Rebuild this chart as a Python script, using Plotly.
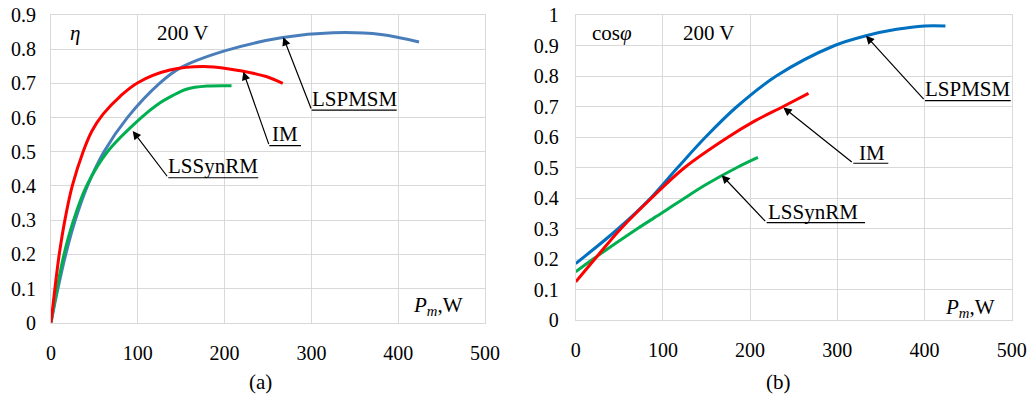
import plotly.graph_objects as go

# ---------------- data (a): efficiency eta vs Pm ----------------
p_eta_lspmsm = [0, 8, 17, 28, 42, 61, 88, 125, 148, 200, 267, 325, 380, 424]
eta_lspmsm = [0, 0.1, 0.2, 0.3, 0.4, 0.5, 0.6, 0.7, 0.744, 0.795, 0.834, 0.848, 0.843, 0.821]

p_eta_im = [0, 4.5, 9.5, 16, 24.5, 37, 47, 60, 80, 100, 137, 181, 220, 248, 267]
eta_im = [0, 0.1, 0.2, 0.3, 0.4, 0.5, 0.56, 0.61, 0.663, 0.702, 0.739, 0.749, 0.736, 0.72, 0.7]

p_eta_syn = [0, 7, 15, 26, 41, 65, 104, 122, 140, 156, 180, 208]
eta_syn = [0, 0.1, 0.2, 0.3, 0.4, 0.5, 0.6, 0.637, 0.664, 0.683, 0.692, 0.693]

# ---------------- data (b): power factor vs Pm ----------------
p_cos_lspmsm = [0, 49, 86, 117, 149, 185, 230, 297, 333, 368, 400, 424]
cos_lspmsm = [0.185, 0.3, 0.4, 0.5, 0.6, 0.7, 0.8, 0.9, 0.932, 0.953, 0.964, 0.964]

p_cos_im = [0, 22, 52, 87, 125, 175, 205, 238, 267]
cos_im = [0.125, 0.2, 0.3, 0.4, 0.5, 0.6, 0.652, 0.7, 0.743]

p_cos_syn = [0, 20, 71, 100, 125, 150, 185, 209]
cos_syn = [0.158, 0.2, 0.3, 0.353, 0.4, 0.445, 0.5, 0.533]

x_ticks = [0, 100, 200, 300, 400, 500]

# label arrows: (name, head_x, head_y, tail_x, tail_y, underline_end_x, text_x, text_y)
labels_a = [
    ("LSPMSM", 267.6, 0.835, 300.3, 0.622, 398.3, 350.2, 0.654),
    ("IM", 221.5, 0.734, 251.5, 0.518, 288.0, 269.6, 0.552),
    ("LSSynRM", 94.1, 0.561, 135.1, 0.424, 238.8, 186.6, 0.459),
]
labels_b = [
    ("LSPMSM", 332.8, 0.932, 400.6, 0.719, 498.9, 450.2, 0.756),
    ("IM", 238.1, 0.697, 318.3, 0.514, 358.5, 339.4, 0.549),
    ("LSSynRM", 167.4, 0.475, 219.0, 0.319, 331.8, 272.5, 0.353),
]

FONT = "'Liberation Serif', 'Times New Roman', 'DejaVu Serif', serif"
RED = "#FF0000"
GREEN = "#00B050"
BLUE_A = "#4A7EBB"
BLUE_B = "#0070C0"
GRID = "#D9D9D9"

fig = go.Figure()

def add_line(x, y, color, xa, ya):
    fig.add_trace(go.Scatter(x=x, y=y, mode="lines",
                             line=dict(color=color, width=3, shape="spline", smoothing=1.0),
                             xaxis=xa, yaxis=ya, showlegend=False, hoverinfo="skip"))

add_line(p_eta_lspmsm, eta_lspmsm, BLUE_A, "x", "y")
add_line(p_eta_syn, eta_syn, GREEN, "x", "y")
add_line(p_eta_im, eta_im, RED, "x", "y")

add_line(p_cos_lspmsm, cos_lspmsm, BLUE_B, "x2", "y2")
add_line(p_cos_syn, cos_syn, GREEN, "x2", "y2")
add_line(p_cos_im, cos_im, RED, "x2", "y2")

W, H = 1032, 396
axis_common = dict(showgrid=True, gridcolor=GRID, gridwidth=1, showline=True, linecolor=GRID, linewidth=1,
                   mirror=True, zeroline=False, ticks="", automargin=False,
                   tickfont=dict(family=FONT, size=20, color="black"), fixedrange=True)

fig.update_layout(
    width=W, height=H, margin=dict(l=0, r=0, t=0, b=0, autoexpand=False),
    paper_bgcolor="white", plot_bgcolor="white", showlegend=False,
    font=dict(family=FONT, color="black"),
    xaxis=dict(domain=[51 / W, 485 / W], range=[0, 500], tickvals=x_ticks, anchor="y",
               ticklabelstandoff=12, **axis_common),
    yaxis=dict(domain=[1 - 322.7 / H, 1 - 15 / H], range=[0, 0.9], dtick=0.1, anchor="x",
               ticklabelstandoff=10, **axis_common),
    xaxis2=dict(domain=[575.7 / W, 1011.7 / W], range=[0, 500], tickvals=x_ticks, anchor="y2",
                ticklabelstandoff=12, **axis_common),
    yaxis2=dict(domain=[1 - 320 / H, 1 - 15 / H], range=[0, 1], dtick=0.1, anchor="x2",
                ticklabelstandoff=12, **axis_common),
)

def add_labels(labels, xr, yr):
    for name, hx, hy, tx, ty, ux, lx, ly in labels:
        fig.add_annotation(x=hx, y=hy, ax=tx, ay=ty, xref=xr, yref=yr, axref=xr, ayref=yr,
                           text="", showarrow=True, arrowhead=2, arrowsize=1.4, arrowwidth=1.2,
                           arrowcolor="black", standoff=0, startstandoff=0)
        fig.add_shape(type="line", x0=tx, y0=ty, x1=ux, y1=ty, xref=xr, yref=yr,
                      line=dict(color="black", width=1.2))
        fig.add_annotation(x=lx, y=ly, xref=xr, yref=yr, text=name, showarrow=False,
                           xanchor="center", yanchor="middle",
                           font=dict(family=FONT, size=21, color="black"))

add_labels(labels_a, "x", "y")
add_labels(labels_b, "x2", "y2")

txt_font = dict(family=FONT, size=21, color="black")

def add_text(x, y, xr, yr, text):
    fig.add_annotation(x=x, y=y, xref=xr, yref=yr, text=text, showarrow=False,
                       xanchor="center", yanchor="middle", font=txt_font)

add_text(27.6, 0.847, "x", "y", "<i>η</i>")
add_text(151.7, 0.846, "x", "y", "200 V")
add_text(445.9, 0.049, "x", "y", "<i>P</i><sub><i>m</i></sub>,W")

add_text(41.3, 0.940, "x2", "y2", "cos<i>φ</i>")
add_text(153.2, 0.940, "x2", "y2", "200 V")
add_text(452.2, 0.040, "x2", "y2", "<i>P</i><sub><i>m</i></sub>,W")

add_text(260 / W, 1 - 381.7 / H, "paper", "paper", "(a)")
add_text(778.3 / W, 1 - 381.7 / H, "paper", "paper", "(b)")

fig.write_html("out.html", config={"displayModeBar": False},
               post_script="document.body.style.margin='0';")
